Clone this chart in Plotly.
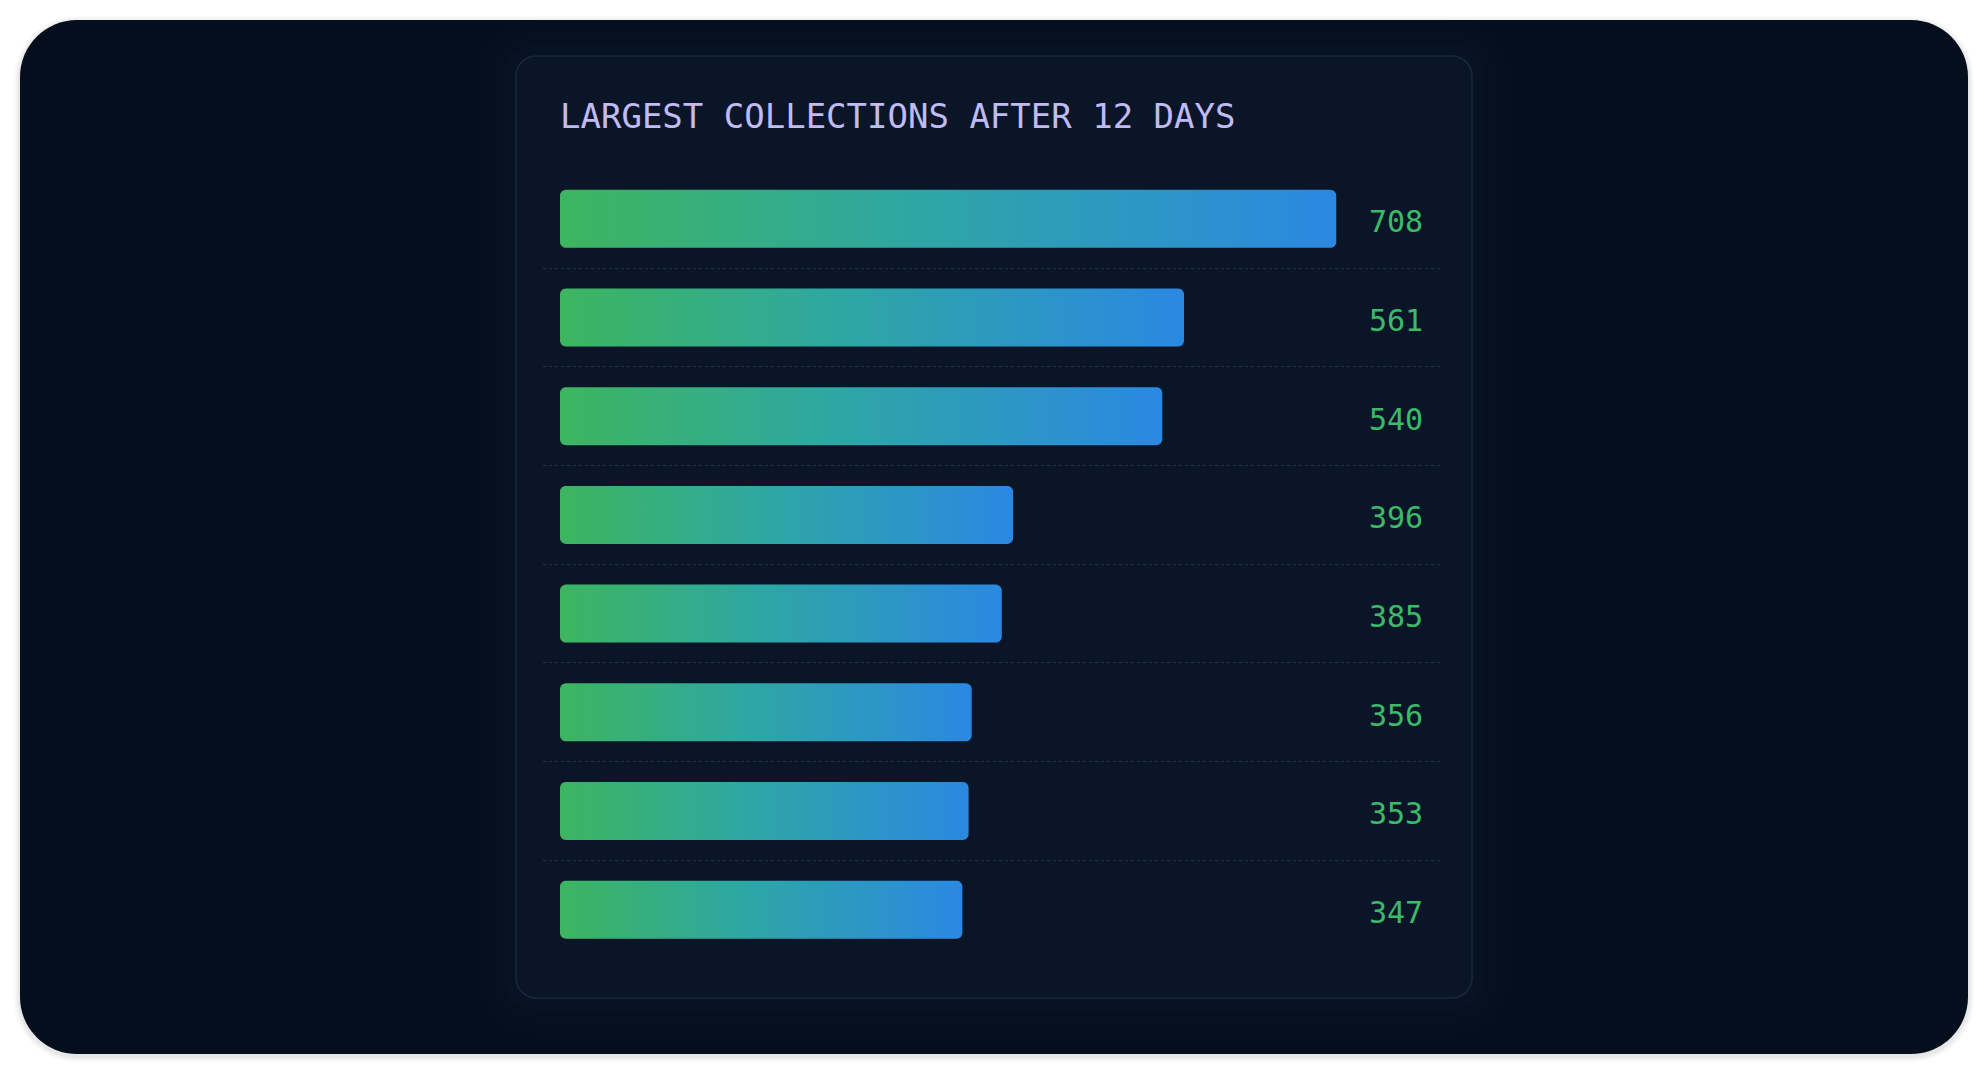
import numpy as np
import plotly.graph_objects as go

# ---------------- data ----------------
values = [708, 561, 540, 396, 385, 356, 353, 347]
ranks = list(range(len(values)))
title_text = "LARGEST COLLECTIONS AFTER 12 DAYS"
value_labels = [str(v) for v in values]

# ---------------- styling / layout constants ----------------
W, H = 1988, 1074
BG_OUTER = "#050e1c"
CARD_BG = "#0a1628"
CARD_LINE = "#17283f"
TITLE_COLOR = "#c0bbf2"
VALUE_COLOR = "#3dba68"
GRID_COLOR = "#1f344d"
BAR_SCALE = [[0.0, "#3db55f"], [0.45, "#2ea7a3"], [1.0, "#2b88e2"]]

PLOT_X0, PLOT_X1 = 543, 1440          # pixel extent of plot area
PX_PER_UNIT = 1.0357
BAR_LEFT_PX = 560
BASE = -41.5                            # value at the bars' left edge
XMIN = BASE - (BAR_LEFT_PX - PLOT_X0) / PX_PER_UNIT
XMAX = BASE + (PLOT_X1 - BAR_LEFT_PX) / PX_PER_UNIT

ROW0_PX, ROW_STEP = 218.8, 98.7
Y_TOP_PX = ROW0_PX - 0.5 * ROW_STEP
Y_BOT_PX = ROW0_PX + (len(values) - 0.5) * ROW_STEP
BAR_H = 58 / ROW_STEP
CORNER_PX = 6


def px(x):
    return x / W


def py(y):
    return 1 - y / H


def rr_path(x0, y0, x1, y1, r):
    """Rounded rectangle SVG path in paper coords from pixel box."""
    k = 0.5523 * r
    pts = [
        f"M{px(x0 + r)},{py(y0)}",
        f"L{px(x1 - r)},{py(y0)}",
        f"C{px(x1 - r + k)},{py(y0)} {px(x1)},{py(y0 + r - k)} {px(x1)},{py(y0 + r)}",
        f"L{px(x1)},{py(y1 - r)}",
        f"C{px(x1)},{py(y1 - r + k)} {px(x1 - r + k)},{py(y1)} {px(x1 - r)},{py(y1)}",
        f"L{px(x0 + r)},{py(y1)}",
        f"C{px(x0 + r - k)},{py(y1)} {px(x0)},{py(y1 - r + k)} {px(x0)},{py(y1 - r)}",
        f"L{px(x0)},{py(y0 + r)}",
        f"C{px(x0)},{py(y0 + r - k)} {px(x0 + r - k)},{py(y0)} {px(x0 + r)},{py(y0)}",
        "Z",
    ]
    return " ".join(pts)


def bar_outline(v, yc):
    rx = CORNER_PX / PX_PER_UNIT
    ry = CORNER_PX / ROW_STEP
    x0, x1 = BASE, v
    yt, yb = yc - BAR_H / 2, yc + BAR_H / 2
    t = np.linspace(0, np.pi / 2, 8)
    xs, ys = [], []
    for a in t:
        xs.append(x1 - rx + rx * np.sin(a)); ys.append(yt + ry - ry * np.cos(a))
    for a in t:
        xs.append(x1 - rx + rx * np.cos(a)); ys.append(yb - ry + ry * np.sin(a))
    for a in t:
        xs.append(x0 + rx - rx * np.sin(a)); ys.append(yb - ry + ry * np.cos(a))
    for a in t:
        xs.append(x0 + rx - rx * np.cos(a)); ys.append(yt + ry - ry * np.sin(a))
    xs.append(xs[0]); ys.append(ys[0])
    return xs, ys


fig = go.Figure()

for v, r in zip(values, ranks):
    xs, ys = bar_outline(v, r)
    fig.add_trace(go.Scatter(
        x=xs, y=ys, mode="none", fill="toself",
        fillgradient=dict(type="horizontal", colorscale=BAR_SCALE),
        hoverinfo="skip", showlegend=False,
    ))

shapes = []
# outer soft shadow + panel
for i, a in enumerate([0.025, 0.03, 0.04]):
    d = 6 - 2 * i
    shapes.append(dict(type="path", xref="paper", yref="paper",
                       path=rr_path(20 - d, 20 - d + 2, 1968 + d, 1054 + d + 2, 57 + d),
                       fillcolor=f"rgba(0,0,0,{a})", line=dict(width=0), layer="below"))
shapes.append(dict(type="path", xref="paper", yref="paper",
                   path=rr_path(20, 20, 1968, 1054, 57),
                   fillcolor=BG_OUTER, line=dict(width=0), layer="below"))
# card glow
for i, a in enumerate([0.10, 0.12, 0.15]):
    d = 36 - 12 * i
    shapes.append(dict(type="path", xref="paper", yref="paper",
                       path=rr_path(516 - d, 56 - d, 1472 + d, 998 + d, 20 + d),
                       fillcolor=f"rgba(14,30,52,{a})", line=dict(width=0), layer="below"))
shapes.append(dict(type="path", xref="paper", yref="paper",
                   path=rr_path(516, 56, 1472, 998, 20),
                   fillcolor=CARD_BG, line=dict(color=CARD_LINE, width=1.5), layer="below"))

annotations = [dict(
    text=title_text, xref="paper", yref="paper", x=px(558), y=py(116),
    xanchor="left", yanchor="middle", showarrow=False,
    font=dict(family="DejaVu Sans Mono", size=34, color=TITLE_COLOR),
)]
for lab, r in zip(value_labels, ranks):
    annotations.append(dict(
        text=lab, xref="paper", yref="y", x=px(1425), y=r, yshift=-3,
        xanchor="right", yanchor="middle", showarrow=False,
        font=dict(family="DejaVu Sans Mono", size=30, color=VALUE_COLOR),
    ))

fig.update_layout(
    width=W, height=H,
    margin=dict(l=0, r=0, t=0, b=0),
    paper_bgcolor="white",
    plot_bgcolor="rgba(0,0,0,0)",
    shapes=shapes,
    annotations=annotations,
    showlegend=False,
    xaxis=dict(domain=[px(PLOT_X0), px(PLOT_X1)], range=[XMIN, XMAX],
               showgrid=False, zeroline=False, showticklabels=False, showline=False,
               fixedrange=True),
    yaxis=dict(domain=[py(Y_BOT_PX), py(Y_TOP_PX)],
               range=[len(values) - 0.5, -0.5],
               tickvals=[r + 0.5 for r in ranks[:-1]],
               showgrid=True, gridcolor=GRID_COLOR, griddash="dot", gridwidth=1,
               zeroline=False, showticklabels=False, showline=False, ticks="",
               fixedrange=True),
)

fig.write_html(
    "out.html",
    config={"displayModeBar": False},
    post_script="document.body.style.margin='0';document.body.style.overflow='hidden';",
)
